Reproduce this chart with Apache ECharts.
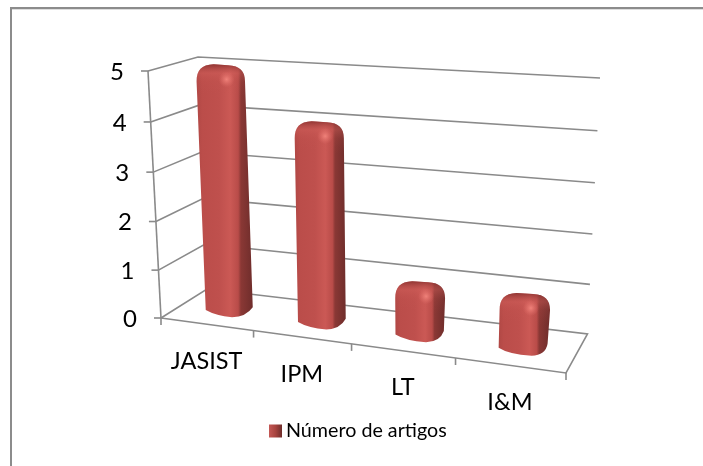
<!DOCTYPE html>
<html><head><meta charset="utf-8">
<style>html,body{margin:0;padding:0;background:#fff}#c{width:703px;height:466px}</style>
<script src="https://cdn.jsdelivr.net/npm/echarts@6/dist/echarts.min.js"></script>
</head><body><div id="c"></div>
<script>
const categories = ['JASIST', 'IPM', 'LT', 'I&M'];
const articleCounts = [5, 4, 1, 1];
const tickValues = [0, 1, 2, 3, 4, 5];
const seriesName = 'Número de artigos';

const FONT = 'Lato';
const GRID_COLOR = '#8a8a8a';
const VMAX = 5, PERSP = 1.04, CAT_WARP = 1.072;

function quad(p0, p1, p2, p3) {
  const dx1 = p1[0]-p2[0], dx2 = p3[0]-p2[0], sx = p0[0]-p1[0]+p2[0]-p3[0];
  const dy1 = p1[1]-p2[1], dy2 = p3[1]-p2[1], sy = p0[1]-p1[1]+p2[1]-p3[1];
  const den = dx1*dy2-dx2*dy1;
  const g = (sx*dy2-dx2*sy)/den, h = (dx1*sy-sx*dy1)/den;
  const a = p1[0]-p0[0]+g*p1[0], b = p3[0]-p0[0]+h*p3[0];
  const d = p1[1]-p0[1]+g*p1[1], e = p3[1]-p0[1]+h*p3[1];
  return (u, w) => {
    const q = g*u+h*w+1;
    return [(a*u+b*w+p0[0])/q, (d*u+e*w+p0[1])/q];
  };
}
// Oblique view of the box: floor and ceiling planes (front-left, front-right, back-right, back-left)
const floorMap = quad([161,318],[566,373],[587.5,334],[207,289]);
const ceilMap  = quad([148,71],[578,97],[600,78],[198,57]);
function view(c, d, v) {
  const cw = CAT_WARP * c / (1 + (CAT_WARP - 1) * c);
  const s = v / VMAX;
  const t = s / (s + (1 - s) * PERSP);
  const f = floorMap(cw, d), k = ceilMap(cw, d);
  return [f[0] + (k[0]-f[0])*t, f[1] + (k[1]-f[1])*t];
}
const toC = (px, cs) => (px - cs.x) / cs.width;
const toV = (py, cs) => (cs.y + cs.height - py) / cs.height * VMAX;
const line = (pts, w) => ({type:'polyline', shape:{points:pts}, silent:true,
  style:{stroke:GRID_COLOR, lineWidth:w||1.6, fill:'none'}});
const txt = (s, x, y, size) => ({type:'text', silent:true, style:{text:s, x:x, y:y, fill:'#000', fontFamily:FONT, fontSize:size,
  textAlign:'center', textVerticalAlign:'middle', align:'center', verticalAlign:'middle'}});

function renderValueTick(params, api) {
  const cs = params.coordSys;
  const val = api.value(0);
  const v = toV(api.coord([0, val])[1], cs);
  const front = view(0,0,v), back = view(0,1,v), right = view(1,1,v);
  const kids = [];
  const pts = [front, back, right];
  if (v === 0) { pts.push(view(1,0,0), front); }
  kids.push(line(pts));
  kids.push(line([[front[0]-7, front[1]], front]));
  if (params.dataIndex < tickValues.length - 1) {
    kids.push(line([front, view(0,0,tickValues[params.dataIndex+1])]));
  }
  kids.push(txt(String(val), front[0]-31, front[1]+1, 24));
  return {type:'group', children:kids};
}
function renderCategoryTick(params, api) {
  const cs = params.coordSys;
  const p = api.coord([params.dataIndex, 0]);
  const band = api.size([1,0])[0];
  const cMid = toC(p[0], cs), cL = toC(p[0]-band/2, cs), cR = toC(p[0]+band/2, cs);
  const kids = [];
  const tick = c => { const a = view(c,0,0); return line([a,[a[0],a[1]+7]]); };
  kids.push(tick(cL));
  if (params.dataIndex === categories.length-1) kids.push(tick(cR));
  const m = view(cMid,0,0);
  kids.push(txt(categories[params.dataIndex], m[0], m[1]+37, 23.5));
  return {type:'group', children:kids};
}
function renderBar(params, api) {
  const cs = params.coordSys;
  const p = api.coord([api.value(0), api.value(1)]);
  const c0 = toC(p[0], cs), vt = toV(p[1], cs);
  const wc = 0.05, d0 = 0.5, wd = 0.125;
  const FL = v => view(c0-wc, d0-wd, v), FR = v => view(c0+wc, d0-wd, v), BR = v => view(c0+wc, d0+wd, v);
  const a = FL(0), b = FR(0), e = BR(0), tl0 = FL(vt), tr0 = BR(vt);
  const midT = (tl0[0]+tr0[0])/2, half = (e[0]-a[0])/2*1.03;
  const tl = [midT-half, tl0[1]], tr = [midT+half, tr0[1]];
  const yTop = (tl[1] + tr[1]) / 2 - 2;
  const rx = 17, ry = 17;
  const path =
    `M${a[0]} ${a[1]} L${tl[0]} ${yTop+ry} C${tl[0]} ${yTop+6} ${tl[0]+5} ${yTop+0.5} ${tl[0]+rx} ${yTop} `+
    `L${tr[0]-rx} ${yTop+1} C${tr[0]-5} ${yTop+1.5} ${tr[0]} ${yTop+7} ${tr[0]} ${yTop+ry} L${e[0]} ${e[1]} `+
    `Q${b[0]+4} ${b[1]+2} ${b[0]-10} ${b[1]+2.5} Q${a[0]+10} ${b[1]+1} ${a[0]} ${a[1]} Z`;
  const w = tr[0]-tl[0];
  const grad = new echarts.graphic.LinearGradient(0,0,1,0,[
    {offset:0,color:'#b04845'},{offset:0.1,color:'#bb4d4a'},{offset:0.4,color:'#bf504d'},
    {offset:0.6,color:'#cb5955'},{offset:0.74,color:'#b94c49'},{offset:0.79,color:'#8a3835'},
    {offset:1,color:'#6f2d2b'}]);
  const capH = 32;
  const capPath =
    `M${tl[0]} ${yTop+capH} L${tl[0]} ${yTop+ry} C${tl[0]} ${yTop+6} ${tl[0]+5} ${yTop+0.5} ${tl[0]+rx} ${yTop} `+
    `L${tr[0]-rx} ${yTop+1} C${tr[0]-5} ${yTop+1.5} ${tr[0]} ${yTop+7} ${tr[0]} ${yTop+ry} L${tr[0]} ${yTop+capH} Z`;
  const capGrad = new echarts.graphic.LinearGradient(0,0,0,1,[
    {offset:0,color:'rgba(125,42,40,0.7)'},{offset:0.28,color:'rgba(215,100,95,0.35)'},
    {offset:0.55,color:'rgba(205,90,85,0.12)'},{offset:1,color:'rgba(190,80,76,0)'}]);
  const hx = tl[0]+w*0.62, hy = yTop+15;
  const glow = new echarts.graphic.RadialGradient(0.5,0.5,0.5,[
    {offset:0,color:'rgba(240,130,122,1)'},{offset:1,color:'rgba(225,110,105,0)'}]);
  return {type:'group', children:[
    {type:'path', shape:{pathData:path}, style:{fill:grad}},
    {type:'path', shape:{pathData:capPath}, style:{fill:capGrad}, silent:true},
    {type:'circle', shape:{cx:hx, cy:hy, r:8}, style:{fill:glow}, silent:true}
  ]};
}

const chart = echarts.init(document.getElementById('c'), null, {renderer:'canvas'});
const hiddenAxis = {show:false};
chart.setOption({
  animation:false,
  backgroundColor:'#fff',
  grid:{left:0, top:0, width:703, height:466},
  xAxis:{type:'category', data:categories, boundaryGap:true, ...hiddenAxis},
  yAxis:{type:'value', min:0, max:VMAX, interval:1, ...hiddenAxis},
  legend:{
    data:[seriesName], left:264, top:416, icon:'rect', itemWidth:13, itemHeight:13, itemGap:4,
    textStyle:{fontFamily:FONT, fontSize:19.7, color:'#000', padding:[0,0,0,-1]}
  },
  graphic:[
    {type:'rect', shape:{x:10,y:7,width:693,height:2}, style:{fill:'#8c8c8c'}, silent:true},
    {type:'rect', shape:{x:10,y:9,width:693,height:1}, style:{fill:'#dedede'}, silent:true},
    {type:'rect', shape:{x:10,y:7,width:2,height:459}, style:{fill:'#8c8c8c'}, silent:true}
  ],
  series:[
    {type:'custom', name:'value axis', coordinateSystem:'cartesian2d', clip:false, silent:true,
     data:tickValues.map(v=>[v]), encode:{y:0}, renderItem:renderValueTick, z:1},
    {type:'custom', name:'category axis', coordinateSystem:'cartesian2d', clip:false, silent:true,
     data:categories.map((c,i)=>[i]), encode:{x:0}, renderItem:renderCategoryTick, z:1},
    {type:'custom', name:seriesName, coordinateSystem:'cartesian2d', clip:false,
     data:articleCounts.map((v,i)=>[i,v]), encode:{x:0,y:1}, renderItem:renderBar, z:2,
     itemStyle:{color:new echarts.graphic.LinearGradient(0,0,1,0,[
       {offset:0,color:'#c45855'},{offset:0.5,color:'#a8443f'},{offset:1,color:'#6f2d2b'}])}}
  ]
});
</script></body></html>
